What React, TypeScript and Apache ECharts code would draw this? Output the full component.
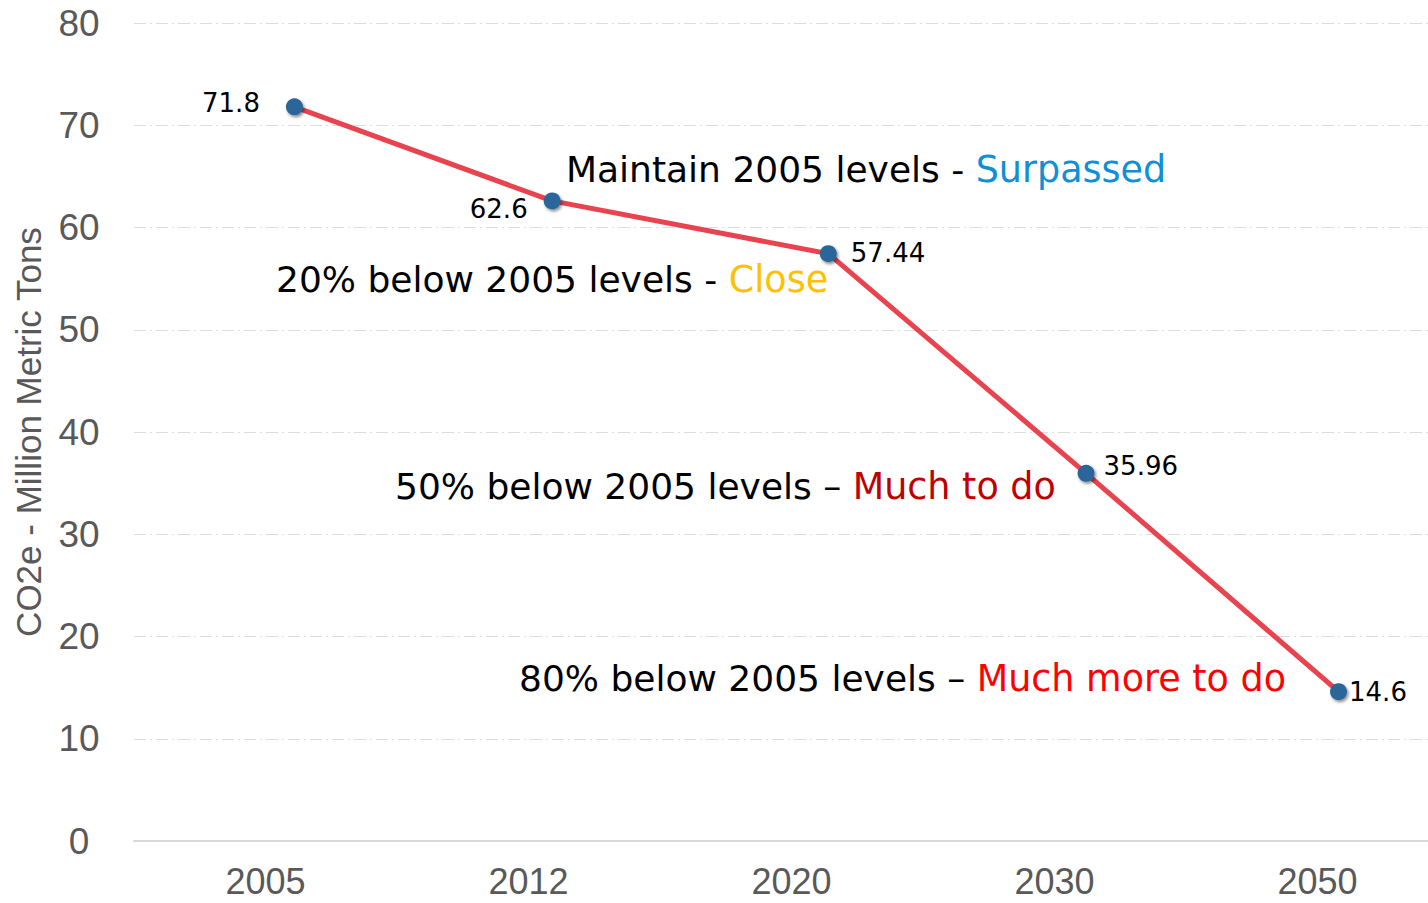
import React, { useEffect, useRef } from "react";
import * as echarts from "echarts";

const categories = ["2005", "2012", "2020", "2030", "2050"];
const values = [71.8, 62.6, 57.44, 35.96, 14.6];
// where each point sits along the category axis (category index units)
const pointPositions = [0.11, 1.09, 2.14, 3.12, 4.08];
const yTicks = [0, 10, 20, 30, 40, 50, 60, 70, 80];

const annotations = [
  { text: "Maintain 2005 levels - ", status: "Surpassed", color: "#0E8FD6" },
  { text: "20% below 2005 levels - ", status: "Close", color: "#FFC000" },
  { text: "50% below 2005 levels \u2013 ", status: "Much to do", color: "#C00000" },
  { text: "80% below 2005 levels \u2013 ", status: "Much more to do", color: "#FF0000" },
];

const labelStyles = [
  { position: "left", distance: 26, offset: [0, -4] },
  { position: "left", distance: 16, offset: [0, 8] },
  { position: "right", distance: 14, offset: [0, -1] },
  { position: "right", distance: 9, offset: [0, -7] },
  { position: "right", distance: 2, offset: [0, 0] },
];
const annotationPos = [
  [566, 169],
  [276, 279],
  [395, 486],
  [519, 678],
];

export default function App() {
  const ref = useRef<HTMLDivElement>(null);
  useEffect(() => {
    if (!ref.current) return;
    const chart = echarts.init(ref.current, undefined, { renderer: "svg" });
    const gray = "#595959";
    chart.setOption({
      animation: false,
      backgroundColor: "#ffffff",
      grid: {
        left: 134,
        right: -21,
        top: 23,
        bottom: 62,
        containLabel: false,
        outerBoundsMode: "none",
      },
      xAxis: [
        {
          type: "category",
          data: categories,
          boundaryGap: true,
          axisTick: { show: false },
          axisLine: { show: true, lineStyle: { color: "#D9D9D9", width: 2 } },
          axisLabel: {
            color: gray,
            fontSize: 36,
            lineHeight: 30,
            fontFamily: "Liberation Sans",
            margin: 25,
          },
          splitLine: { show: false },
        },
        { type: "value", min: -0.5, max: 4.5, show: false },
      ],
      yAxis: {
        type: "value",
        min: yTicks[0],
        max: yTicks[yTicks.length - 1],
        interval: 10,
        name: "CO2e - Million Metric Tons",
        nameLocation: "middle",
        nameGap: 88,
        nameTextStyle: { color: gray, fontSize: 35, fontFamily: "Liberation Sans" },
        axisLine: { show: false },
        axisTick: { show: false },
        axisLabel: {
          color: gray,
          fontSize: 37,
          fontFamily: "Liberation Sans",
          align: "center",
          margin: 55,
        },
        splitLine: {
          show: true,
          lineStyle: { color: "#DDDDDD", width: 1, type: [12, 4, 2, 4] },
        },
      },
      series: [
        {
          type: "line",
          xAxisIndex: 1,
          data: values.map((v, i) => ({
            value: [pointPositions[i], v],
            label: {
              show: true,
              position: labelStyles[i].position,
              distance: labelStyles[i].distance,
              offset: labelStyles[i].offset,
            },
          })),
          symbol: "circle",
          symbolSize: 17,
          lineStyle: { color: "#E8434E", width: 5 },
          itemStyle: {
            color: "#2A6699",
            shadowBlur: 3,
            shadowColor: "rgba(0,0,0,0.45)",
            shadowOffsetX: 1.5,
            shadowOffsetY: 2,
          },
          label: {
            show: true,
            color: "#000000",
            fontSize: 26,
            fontFamily: "DejaVu Sans",
            formatter: (p: any) => String(p.value[1]),
          },
          z: 3,
        },
      ],
      graphic: annotations.map((a, i) => ({
        type: "text",
        x: annotationPos[i][0],
        y: annotationPos[i][1],
        z: 10,
        style: {
          text: `{a|${a.text}}{b|${a.status}}`,
          verticalAlign: "middle",
          rich: {
            a: { fontSize: 36, fontFamily: "DejaVu Sans", fill: "#000000", color: "#000000" },
            b: { fontSize: 36.5, fontFamily: "DejaVu Sans", fill: a.color, color: a.color },
          },
        },
      })),
    });
    return () => chart.dispose();
  }, []);
  return (
    <div
      ref={ref}
      style={{ position: "fixed", left: 0, top: 0, width: 1428, height: 903, background: "#fff" }}
    />
  );
}
